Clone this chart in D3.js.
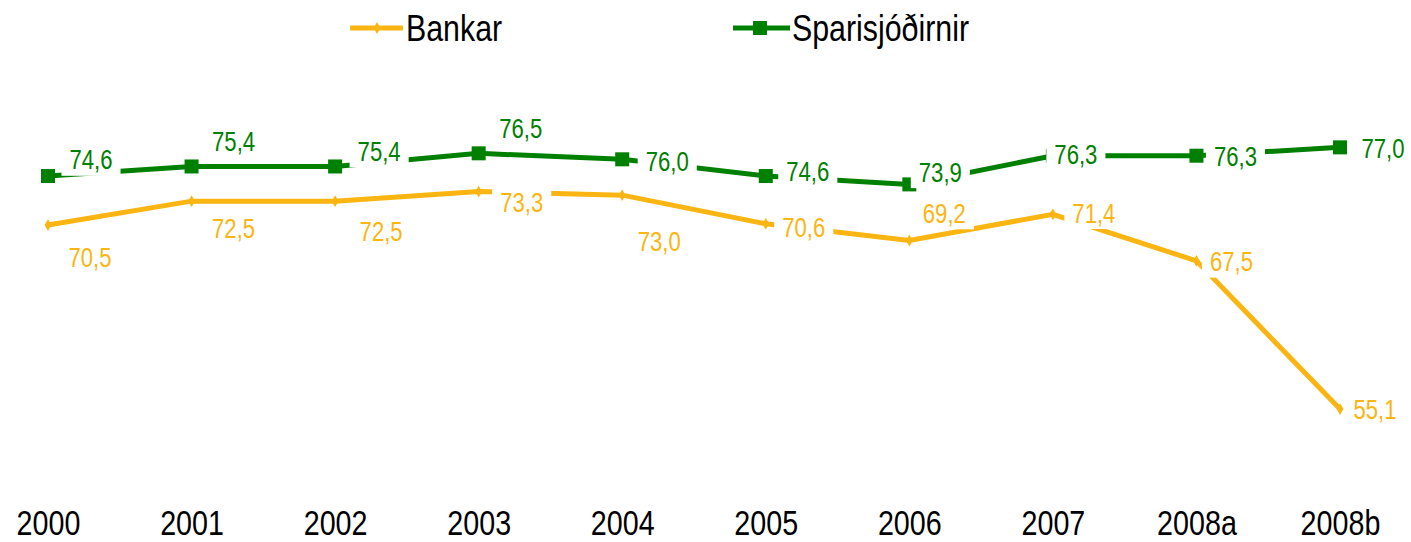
<!DOCTYPE html>
<html><head><meta charset="utf-8">
<script src="https://cdn.jsdelivr.net/npm/d3@7/dist/d3.min.js"></script>
<style>
body{margin:0;background:#fff;}
text{font-family:"Liberation Sans Narrow","Arial Narrow","Liberation Sans",Arial,sans-serif;}
</style></head>
<body><svg id="c" width="1411" height="542"></svg>
<script>
const categories = ["2000","2001","2002","2003","2004","2005","2006","2007","2008a","2008b"];
const bankar = [70.5,72.5,72.5,73.3,73.0,70.6,69.2,71.4,67.5,55.1];
const sparisjodir = [74.6,75.4,75.4,76.5,76.0,74.6,73.9,76.3,76.3,77.0];
const seriesNames = ["Bankar","Sparisjóðirnir"];

// label placement offsets (layout only)
const bankarLabelOffset = [[42,33],[42,28],[46,31],[43,11],[37,47],[38,4],[35,-27],[41,-1],[35,1],[35,1]];
const sparLabelOffset = [[43,-16],[42,-25],[44,-15],[42,-25],[45,2],[42,-4],[31,-12],[23,-1],[39,1],[43,1]];

const SX = 0.82; // horizontal condensing to mimic a narrow face
const YEL = "#FBB512", GRN = "#008000";
const svg = d3.select("#c");
const x = d3.scalePoint().domain(categories).range([48,1340]);
const y = d3.scaleLinear().domain([50,80]).range([470,111.5]);
const fmt = v => d3.format(".1f")(v).replace(".", ",");

const line = d3.line().x((d,i)=>x(categories[i])).y(d=>y(d));

// green series
svg.append("path").datum(sparisjodir).attr("d",line).attr("fill","none")
  .attr("stroke",GRN).attr("stroke-width",5);
svg.selectAll("rect.gm").data(sparisjodir).enter().append("rect")
  .attr("x",(d,i)=>x(categories[i])-7).attr("y",d=>y(d)-7)
  .attr("width",14).attr("height",14).attr("fill",GRN);

// yellow series
svg.append("path").datum(bankar).attr("d",line).attr("fill","none")
  .attr("stroke",YEL).attr("stroke-width",5);
svg.selectAll("path.ym").data(bankar).enter().append("path")
  .attr("d",d3.symbol().type(d3.symbolDiamond).size(40))
  .attr("transform",(d,i)=>`translate(${x(categories[i])},${y(d)})`)
  .attr("fill",YEL);

function labels(data, off, color){
  const g = svg.append("g");
  data.forEach((v,i)=>{
    const cx = x(categories[i]) + off[i][0], cy = y(v) + off[i][1];
    const gg = g.append("g").attr("transform",`translate(${cx},${cy})`);
    const t = gg.append("text").attr("transform",`scale(${SX},1)`)
      .attr("text-anchor","middle").attr("dominant-baseline","central")
      .attr("font-size",27).attr("fill",color).text(fmt(v));
    const b = t.node().getBBox();
    const w = b.width*SX + 16;
    gg.insert("rect","text").attr("x",-w/2).attr("y",b.y).attr("width",w)
      .attr("height",b.height+1).attr("fill","#fff");
  });
}
labels(sparisjodir, sparLabelOffset, GRN);
labels(bankar, bankarLabelOffset, YEL);

// x axis labels
const xAxis = d3.axisBottom(x).tickSize(0).tickPadding(0);
const ax = svg.append("g").attr("transform","translate(0,510)").call(xAxis);
ax.select(".domain").remove();
ax.selectAll("text").attr("font-size",35).attr("fill","#000")
  .attr("font-family","'Liberation Sans Narrow','Arial Narrow','Liberation Sans',Arial,sans-serif")
  .attr("dy","0.71em").attr("transform",`scale(${SX},1)`);

// legend
const lg = svg.append("g");
lg.append("line").attr("x1",350).attr("x2",403).attr("y1",28).attr("y2",28).attr("stroke",YEL).attr("stroke-width",5);
lg.append("path").attr("d",d3.symbol().type(d3.symbolDiamond).size(40)).attr("transform","translate(377,28)").attr("fill",YEL);
lg.append("text").attr("transform",`translate(406,41) scale(${SX},1)`).attr("font-size",37).attr("fill","#000").text(seriesNames[0]);
lg.append("line").attr("x1",733).attr("x2",790).attr("y1",28).attr("y2",28).attr("stroke",GRN).attr("stroke-width",5);
lg.append("rect").attr("x",753).attr("y",21).attr("width",14).attr("height",14).attr("fill",GRN);
lg.append("text").attr("transform",`translate(792,41) scale(${SX},1)`).attr("font-size",37).attr("fill","#000").text(seriesNames[1]);
</script></body></html>
